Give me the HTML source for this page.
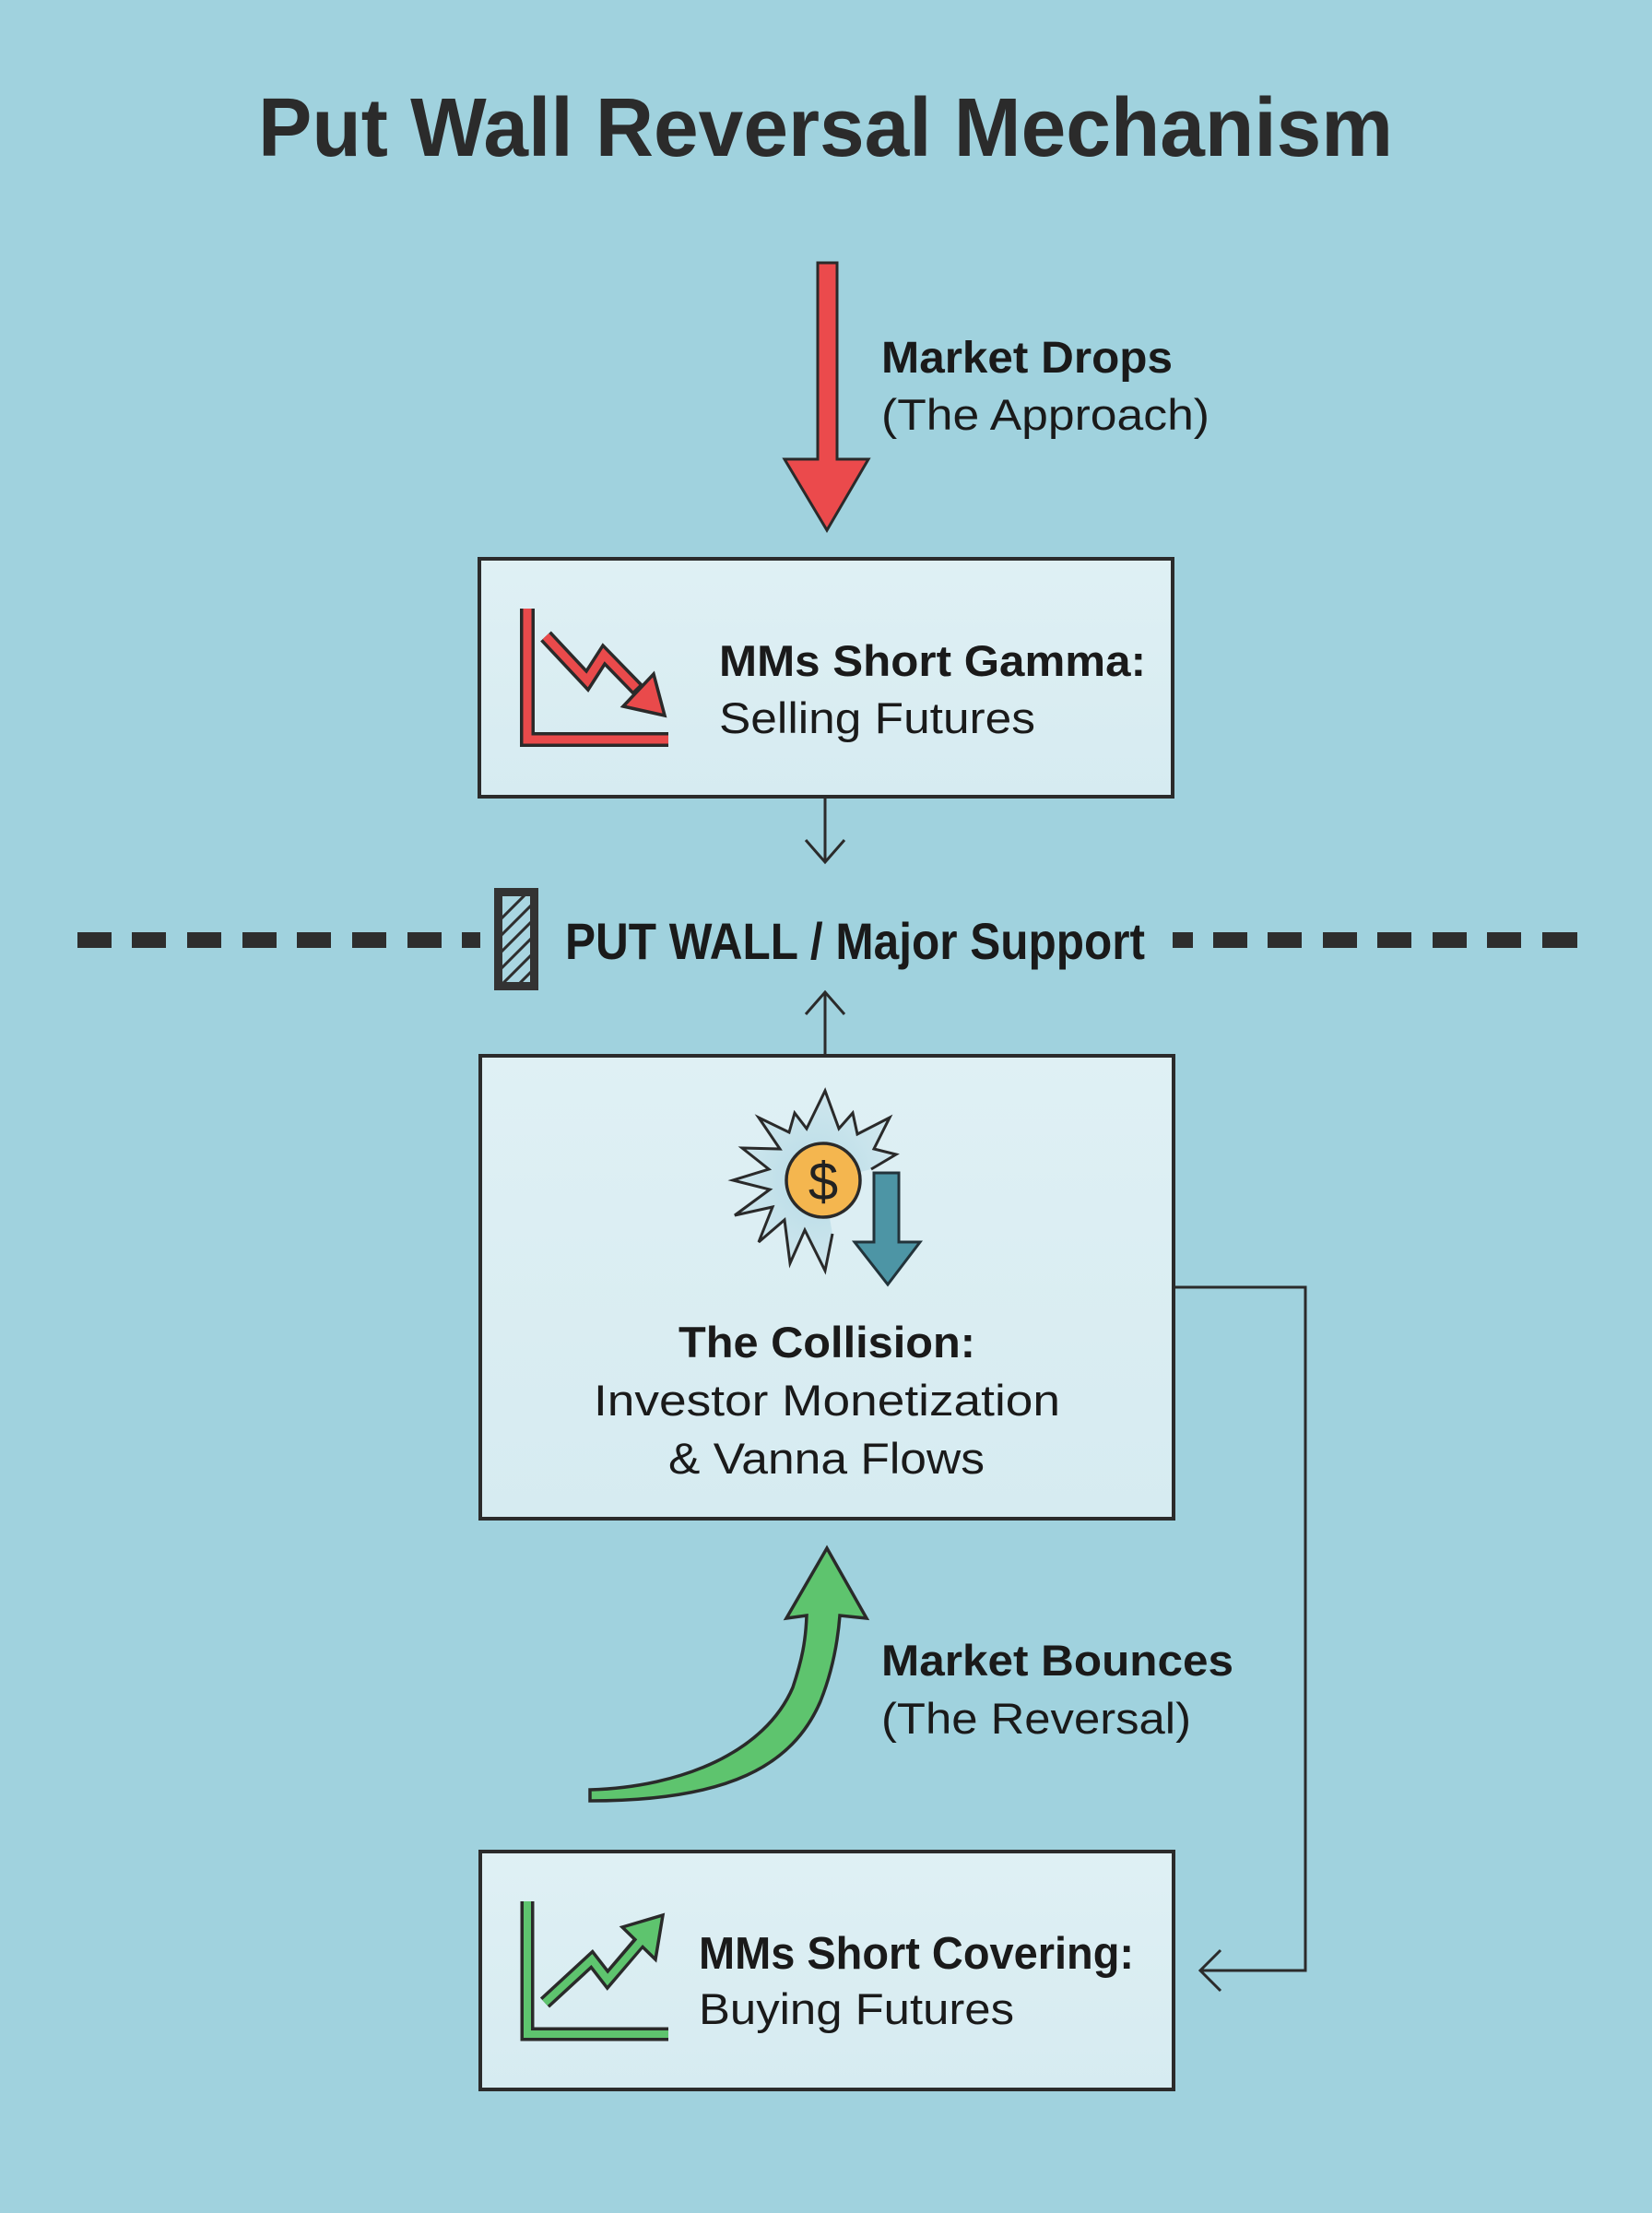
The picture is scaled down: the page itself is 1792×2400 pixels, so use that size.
<!DOCTYPE html>
<html><head><meta charset="utf-8"><style>
html,body{margin:0;padding:0;background:#a0d2de;}
svg{display:block;}
text{font-family:"Liberation Sans",Arial,sans-serif;}
</style></head><body>
<svg width="1792" height="2400" viewBox="0 0 1792 2400" xmlns="http://www.w3.org/2000/svg">
<defs>
<linearGradient id="bx" x1="0" y1="0" x2="0" y2="1">
<stop offset="0" stop-color="#dff0f4"/><stop offset="1" stop-color="#d6ebf1"/>
</linearGradient>
<radialGradient id="glow" cx="0.5" cy="0.5" r="0.5">
<stop offset="0" stop-color="#b7dbe6"/><stop offset="1" stop-color="#cfe7ee"/>
</radialGradient>
<clipPath id="hc"><rect x="545" y="972" width="30" height="93"/></clipPath>
</defs>
<rect width="1792" height="2400" fill="#a0d2de"/>

<!-- Title -->
<text x="280" y="169" font-size="90" font-weight="bold" fill="#2b2b2b" textLength="1231" lengthAdjust="spacingAndGlyphs">Put Wall Reversal Mechanism</text>

<!-- Red big arrow -->
<polygon points="887,285 908,285 908,498 942,498 897,575 851,498 887,498" fill="#eb4a4c" stroke="#2a2a2a" stroke-width="3" stroke-linejoin="miter"/>
<text x="956" y="404" font-size="48" font-weight="bold" fill="#1a1a1a" textLength="316" lengthAdjust="spacingAndGlyphs">Market Drops</text>
<text x="956" y="466" font-size="47" fill="#1a1a1a" textLength="356" lengthAdjust="spacingAndGlyphs">(The Approach)</text>

<!-- Box 1 -->
<rect x="520" y="606" width="752" height="258" fill="url(#bx)" stroke="#2b2b2b" stroke-width="4"/>
<!-- red chart icon -->
<path d="M572,660 L572,802 L725,802" fill="none" stroke="#2a2a2a" stroke-width="16" stroke-linejoin="miter"/>
<path d="M572,660 L572,802 L725,802" fill="none" stroke="#e94a4b" stroke-width="9" stroke-linejoin="miter"/>
<polyline points="592,690 637,738 655,710 693,749" fill="none" stroke="#2a2a2a" stroke-width="16" stroke-linejoin="miter"/>
<polygon points="676,766 721,776 709,731" fill="#e94a4b" stroke="#2a2a2a" stroke-width="3.5" stroke-linejoin="miter"/>
<polyline points="592,690 637,738 655,710 690,746" fill="none" stroke="#e94a4b" stroke-width="9" stroke-linejoin="miter"/>
<text x="780" y="733" font-size="47" font-weight="bold" fill="#1a1a1a" textLength="463" lengthAdjust="spacingAndGlyphs">MMs Short Gamma:</text>
<text x="780" y="795" font-size="47" fill="#1a1a1a" textLength="343" lengthAdjust="spacingAndGlyphs">Selling Futures</text>

<!-- connector box1 -> put wall -->
<line x1="895" y1="864" x2="895" y2="934" stroke="#2b2b2b" stroke-width="3"/>
<polyline points="874,911 895,935 916,911" fill="none" stroke="#2b2b2b" stroke-width="3"/>

<!-- Put wall dashed line -->
<g fill="#2e2e2e">
<rect x="84" y="1011" width="37" height="17"/>
<rect x="143" y="1011" width="37" height="17"/>
<rect x="203" y="1011" width="37" height="17"/>
<rect x="263" y="1011" width="37" height="17"/>
<rect x="322" y="1011" width="37" height="17"/>
<rect x="382" y="1011" width="37" height="17"/>
<rect x="442" y="1011" width="37" height="17"/>
<rect x="501" y="1011" width="20" height="17"/>
<rect x="1272" y="1011" width="22" height="17"/>
<rect x="1316" y="1011" width="37" height="17"/>
<rect x="1375" y="1011" width="37" height="17"/>
<rect x="1435" y="1011" width="37" height="17"/>
<rect x="1494" y="1011" width="37" height="17"/>
<rect x="1554" y="1011" width="37" height="17"/>
<rect x="1613" y="1011" width="37" height="17"/>
<rect x="1673" y="1011" width="38" height="17"/>
</g>
<!-- hatched wall -->
<rect x="536" y="963" width="48" height="111" fill="#333333"/>
<rect x="545" y="972" width="30" height="93" fill="#a9d6e1"/>
<g clip-path="url(#hc)" stroke="#2e2e2e" stroke-width="3">
<line x1="540" y1="1000" x2="580" y2="960"/>
<line x1="540" y1="1018" x2="580" y2="978"/>
<line x1="540" y1="1036" x2="580" y2="996"/>
<line x1="540" y1="1054" x2="580" y2="1014"/>
<line x1="540" y1="1072" x2="580" y2="1032"/>
<line x1="540" y1="1090" x2="580" y2="1050"/>
</g>
<text x="613" y="1040" font-size="56" font-weight="bold" fill="#1a1a1a" textLength="629" lengthAdjust="spacingAndGlyphs">PUT WALL / Major Support</text>

<!-- connector box2 -> put wall -->
<line x1="895" y1="1076" x2="895" y2="1145" stroke="#2b2b2b" stroke-width="3"/>
<polyline points="874,1100 895,1076 916,1100" fill="none" stroke="#2b2b2b" stroke-width="3"/>

<!-- Box 2 -->
<rect x="521" y="1145" width="752" height="502" fill="url(#bx)" stroke="#2b2b2b" stroke-width="4"/>
<!-- sun / burst -->
<path d="M893,1281 L903,1338 L895,1378 L873,1334 L857,1370 L851,1323 L823,1347 L838,1309 L797,1318 L835,1290 L795,1280 L834,1268 L805,1245 L846,1246 L823,1212 L856,1228 L862,1207 L875,1224 L895,1183 L910,1224 L925,1207 L930,1230 L965,1212 L948,1246 L972,1252 L945,1268 Z" fill="url(#glow)"/>
<polyline points="945,1268 972,1252 948,1246 965,1212 930,1230 925,1207 910,1224 895,1183 875,1224 862,1207 856,1228 823,1212 846,1246 805,1245 834,1268 795,1280 835,1290 797,1318 838,1309 823,1347 851,1323 857,1370 873,1334 895,1378 903,1338" fill="none" stroke="#2a2a2a" stroke-width="3" stroke-linejoin="miter"/>
<circle cx="893" cy="1280" r="40" fill="#f4b64f" stroke="#2a2a2a" stroke-width="3.5"/>
<text x="893" y="1301" font-size="58" fill="#222" text-anchor="middle">$</text>
<!-- teal down arrow -->
<polygon points="948,1272 975,1272 975,1347 998,1347 963,1393 927,1347 948,1347" fill="#4d95a5" stroke="#22333a" stroke-width="3" stroke-linejoin="miter"/>
<text x="736" y="1472" font-size="47" font-weight="bold" fill="#1a1a1a" textLength="322" lengthAdjust="spacingAndGlyphs">The Collision:</text>
<text x="644" y="1535" font-size="47" fill="#1a1a1a" textLength="506" lengthAdjust="spacingAndGlyphs">Investor Monetization</text>
<text x="725" y="1598" font-size="47" fill="#1a1a1a" textLength="343" lengthAdjust="spacingAndGlyphs">&amp; Vanna Flows</text>

<!-- right connector -->
<polyline points="1273,1396 1416,1396 1416,2137 1302,2137" fill="none" stroke="#2b2b2b" stroke-width="3"/>
<polyline points="1324,2115 1302,2137 1324,2159" fill="none" stroke="#2b2b2b" stroke-width="3"/>

<!-- green curved arrow -->
<path d="M640,1941 C740,1938 830,1900 860,1830 C870,1800 874,1780 875,1752 L853,1755 L897,1679 L940,1755 L911,1752 C908,1790 900,1820 890,1845 C860,1915 790,1953 640,1953 Z" fill="#5ec46e" stroke="#2a2a2a" stroke-width="3.5" stroke-linejoin="miter"/>
<text x="956" y="1817" font-size="47" font-weight="bold" fill="#1a1a1a" textLength="382" lengthAdjust="spacingAndGlyphs">Market Bounces</text>
<text x="956" y="1880" font-size="47" fill="#1a1a1a" textLength="336" lengthAdjust="spacingAndGlyphs">(The Reversal)</text>

<!-- Box 3 -->
<rect x="521" y="2008" width="752" height="258" fill="url(#bx)" stroke="#2b2b2b" stroke-width="4"/>
<path d="M572,2062 L572,2206 L725,2206" fill="none" stroke="#2a2a2a" stroke-width="15" stroke-linejoin="miter"/>
<path d="M572,2062 L572,2206 L725,2206" fill="none" stroke="#5ec46e" stroke-width="8" stroke-linejoin="miter"/>
<polyline points="591,2172 642,2125 659,2147 693,2107" fill="none" stroke="#2a2a2a" stroke-width="15" stroke-linejoin="miter"/>
<polygon points="675,2090 719,2077 711,2125" fill="#5ec46e" stroke="#2a2a2a" stroke-width="3.5" stroke-linejoin="miter"/>
<polyline points="591,2172 642,2125 659,2147 696,2104" fill="none" stroke="#5ec46e" stroke-width="8" stroke-linejoin="miter"/>
<text x="758" y="2135" font-size="49" font-weight="bold" fill="#1a1a1a" textLength="472" lengthAdjust="spacingAndGlyphs">MMs Short Covering:</text>
<text x="758" y="2195" font-size="47" fill="#1a1a1a" textLength="342" lengthAdjust="spacingAndGlyphs">Buying Futures</text>
</svg>
</body></html>
